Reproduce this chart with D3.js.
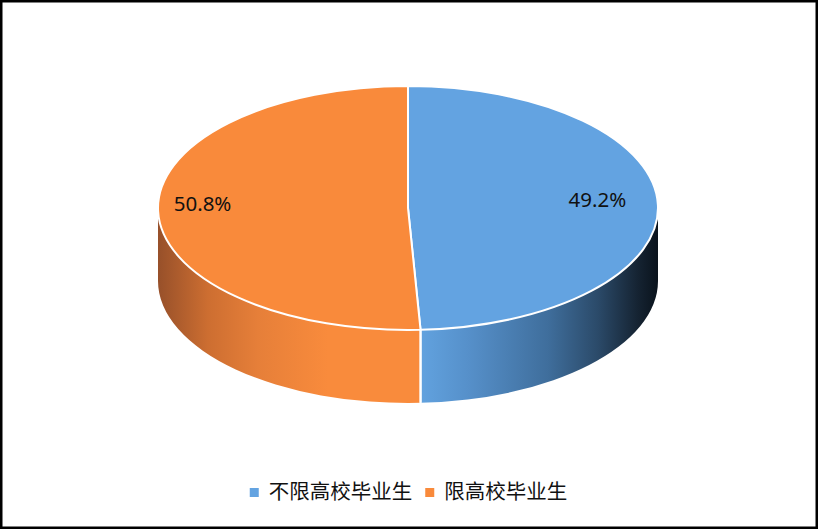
<!DOCTYPE html>
<html>
<head>
<meta charset="utf-8">
<script src="https://cdn.jsdelivr.net/npm/d3@7"></script>
<style>
  html, body { margin: 0; padding: 0; background: #fff; }
  svg { display: block; }
</style>
</head>
<body>
<svg id="chart" width="818" height="529"></svg>
<script>
// chart data
const categories = ["不限高校毕业生", "限高校毕业生"];
const shares = [49.2, 50.8];
const pctLabels = ["49.2%", "50.8%"];

const W = 818, H = 529;
const cx = 408, cy = 208, rx = 250, ry = 122, depth = 73;

const topColors = ["#63a3e1", "#f98a3b"];

const svg = d3.select("#chart");

// frame
svg.append("rect")
    .attr("x", 1.25).attr("y", 1.25)
    .attr("width", W - 2.5).attr("height", H - 2.5)
    .attr("fill", "#fff")
    .attr("stroke", "#000")
    .attr("stroke-width", 2.5);

const defs = svg.append("defs");

// side shading, horizontal across the whole pie
const sideStops = [
    [[0, "#97502a"], [0.1, "#cd6e31"], [0.2, "#e67f39"], [0.34, "#f98b3c"], [1, "#f98b3c"]],
    [[0, "#62a3e0"], [0.52, "#62a3e0"], [0.62, "#5690ca"], [0.78, "#3f6e9c"], [0.88, "#2b4a69"], [0.96, "#152332"], [1, "#0a131c"]]
];
// blue gets the first gradient in data order, orange the second
const gradOrder = [1, 0];
gradOrder.forEach((si, i) => {
    const g = defs.append("linearGradient")
        .attr("id", "side" + i)
        .attr("gradientUnits", "userSpaceOnUse")
        .attr("x1", cx - rx).attr("x2", cx + rx)
        .attr("y1", 0).attr("y2", 0);
    g.selectAll("stop").data(sideStops[si]).join("stop")
        .attr("offset", d => d[0])
        .attr("stop-color", d => d[1]);
});

const pie = d3.pie().sort(null).value(d => d)
    .startAngle(0).endAngle(2 * Math.PI);
const arcs = pie(shares);

const pt = (a, dy = 0) => [cx + rx * Math.sin(a), cy - ry * Math.cos(a) + dy];

// sides (front half only: angles between pi/2 and 3pi/2)
const front0 = Math.PI / 2, front1 = 3 * Math.PI / 2;
const sideG = svg.append("g");
arcs.forEach((d, i) => {
    const a0 = Math.max(d.startAngle, front0);
    const a1 = Math.min(d.endAngle, front1);
    if (a1 <= a0) return;
    const p0 = pt(a0), p1 = pt(a1), q1 = pt(a1, depth), q0 = pt(a0, depth);
    const path = `M${p0}A${rx},${ry} 0 0 1 ${p1}L${q1}A${rx},${ry} 0 0 0 ${q0}Z`;
    sideG.append("path")
        .attr("d", path)
        .attr("fill", `url(#side${i})`);
});

// white separators on the side at slice boundaries
arcs.forEach(d => {
    [d.startAngle, d.endAngle].forEach(a => {
        if (a > front0 && a < front1) {
            const p = pt(a), q = pt(a, depth);
            sideG.append("line")
                .attr("x1", p[0]).attr("y1", p[1])
                .attr("x2", q[0]).attr("y2", q[1])
                .attr("stroke", "#fff").attr("stroke-width", 2);
        }
    });
});

// top faces
const topG = svg.append("g");
arcs.forEach((d, i) => {
    const p0 = pt(d.startAngle), p1 = pt(d.endAngle);
    const large = d.endAngle - d.startAngle > Math.PI ? 1 : 0;
    topG.append("path")
        .attr("d", `M${cx},${cy}L${p0}A${rx},${ry} 0 ${large} 1 ${p1}Z`)
        .attr("fill", topColors[i])
        .attr("stroke", "#fff")
        .attr("stroke-width", 2)
        .attr("stroke-linejoin", "round");
});

// data labels
arcs.forEach((d, i) => {
    const mid = (d.startAngle + d.endAngle) / 2;
    svg.append("text")
        .attr("x", cx - 8 + rx * 0.79 * Math.sin(mid))
        .attr("y", cy - ry * 0.79 * Math.cos(mid) - 7)
        .attr("text-anchor", "middle")
        .attr("dominant-baseline", "central")
        .attr("font-family", "'Noto Sans', 'Open Sans', sans-serif")
        .attr("font-size", 20.5)
        .attr("fill", "#111")
        .text(pctLabels[i]);
});

// legend
const legend = svg.append("g");
const items = legend.selectAll("g").data(categories).join("g");
items.append("rect")
    .attr("width", 9).attr("height", 9)
    .attr("y", -9)
    .attr("fill", (d, i) => topColors[i]);
items.append("text")
    .attr("x", 19)
    .attr("y", 0)
    .attr("dy", 2)
    .attr("font-family", "'Noto Sans CJK SC', sans-serif")
    .attr("font-size", 20.5)
    .attr("fill", "#111")
    .text(d => d);

const widths = [];
items.each(function () {
    const w = 19 + d3.select(this).select("text").node().getComputedTextLength();
    widths.push(w);
});
const gap = 13;
const total = d3.sum(widths) + gap * (widths.length - 1);
let x = 408.5 - total / 2;
items.attr("transform", (d, i) => {
    const t = `translate(${x},497)`;
    x += widths[i] + gap;
    return t;
});
</script>
</body>
</html>
